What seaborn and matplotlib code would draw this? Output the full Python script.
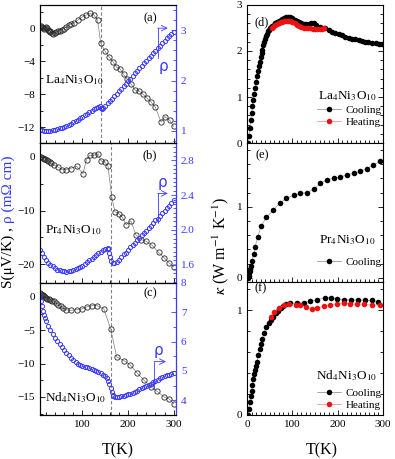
import matplotlib
matplotlib.use('Agg')
import matplotlib.pyplot as plt
from matplotlib.ticker import MultipleLocator, FormatStrFormatter, NullFormatter
from matplotlib.lines import Line2D
import seaborn as sns

# ---- thermopower S (uV/K), open black circles ----
T_S_a = [8, 10, 12, 14, 16, 18, 20, 22, 24, 26, 28, 30, 33, 36, 39, 42, 46, 50, 55, 60, 65, 70, 75, 81,
         90, 100, 108, 116, 125, 133, 140, 149, 158, 167, 174, 182, 190, 197, 206, 215, 224, 233, 242,
         250, 260, 272, 280, 291, 300]
S_a = [0.1, 0.2, 0.1, 0.0, -0.1, 0.0, 0.1, 0.0, -0.2, -0.3, -0.4, -0.5, -0.6, -0.65, -0.6, -0.5, -0.4,
       -0.3, -0.2, -0.05, 0.15, 0.36, 0.5, 0.6, 0.97, 1.37, 1.58, 1.78, 1.6, 0.97, -1.78, -2.75, -3.47,
       -4.08, -4.7, -4.9, -5.6, -6.1, -6.7, -7.5, -7.6, -8.0, -8.5, -8.9, -9.6, -11.35, -10.7, -11.15, -11.9]

T_S_b = [8, 10, 13, 16, 19, 22, 25, 28, 31, 37, 46, 55, 64, 74, 87, 101, 109, 116, 125, 134, 141, 149,
         156, 164, 171, 180, 187, 196, 206, 217, 228, 239, 253, 267, 279, 290, 300]
S_b = [0.0, -0.1, -0.2, -0.3, -0.45, -0.6, -0.75, -0.9, -1.1, -1.5, -1.85, -2.35, -2.35, -2.16, -1.73,
       -3.1, -0.5, 0.3, 0.3, 0.6, -0.74, -0.93, -1.73, -7.4, -10.2, -10.6, -11.2, -12.65, -11.9, -14.5,
       -15.4, -15.7, -16.5, -17.8, -18.8, -19.75, -20.5]

T_S_c = [8, 10, 12, 14, 16, 18, 20, 23, 26, 30, 33, 37, 42, 47, 52, 57, 63, 74, 87, 99, 109, 121, 132,
         147, 162, 175, 191, 204, 220, 235, 250, 264, 279, 290, 300]
S_c = [0.6, 0.5, 0.35, 0.25, 0.15, 0.05, -0.1, -0.25, -0.35, -0.45, -0.55, -0.65, -0.9, -1.15, -1.4,
       -1.65, -1.9, -2.0, -1.9, -1.8, -1.5, -1.3, -1.3, -1.8, -4.8, -9.0, -9.55, -10.15, -11.4, -12.5,
       -13.5, -14.15, -15.0, -15.3, -16.0]

# ---- resistivity rho (mOhm cm), open blue circles ----
T_rho_a = [8, 12, 16, 20, 25, 30, 35, 40, 45, 50, 55, 60, 65, 70, 75, 80, 85, 90, 95, 100, 105, 110,
           115, 120, 125, 130, 135, 138, 140, 142, 145, 150, 155, 160, 165, 170, 175, 180, 185, 190,
           195, 200, 205, 210, 215, 220, 225, 230, 235, 240, 245, 250, 255, 260, 265, 270, 275, 280,
           285, 290, 295, 300]
rho_a = [1.02, 1.01, 1.00, 1.00, 1.00, 1.00, 1.01, 1.02, 1.03, 1.05, 1.06, 1.08, 1.10, 1.12, 1.14,
         1.17, 1.19, 1.22, 1.25, 1.28, 1.31, 1.34, 1.37, 1.40, 1.43, 1.46, 1.48, 1.49, 1.45, 1.44,
         1.46, 1.50, 1.55, 1.60, 1.64, 1.69, 1.74, 1.79, 1.84, 1.89, 1.94, 1.99, 2.04, 2.09, 2.14,
         2.19, 2.24, 2.29, 2.34, 2.39, 2.44, 2.49, 2.54, 2.59, 2.64, 2.69, 2.74, 2.79, 2.84, 2.89,
         2.93, 2.97]

T_rho_b = [8, 12, 16, 20, 25, 30, 35, 40, 45, 50, 55, 60, 65, 70, 75, 80, 85, 90, 95, 100, 105, 110,
           115, 120, 125, 130, 135, 140, 145, 150, 155, 157, 159, 161, 163, 166, 170, 175, 180, 185,
           190, 195, 200, 205, 210, 215, 220, 225, 230, 235, 240, 245, 250, 255, 260, 265, 270, 275,
           280, 285, 290, 295, 300]
rho_b = [1.77, 1.73, 1.69, 1.66, 1.62, 1.60, 1.58, 1.56, 1.545, 1.535, 1.53, 1.525, 1.52, 1.525,
         1.53, 1.54, 1.55, 1.56, 1.575, 1.59, 1.61, 1.63, 1.65, 1.67, 1.69, 1.71, 1.73, 1.75, 1.765,
         1.78, 1.79, 1.78, 1.74, 1.69, 1.64, 1.62, 1.615, 1.63, 1.66, 1.69, 1.72, 1.74, 1.77, 1.80,
         1.83, 1.85, 1.88, 1.91, 1.94, 1.97, 1.99, 2.02, 2.05, 2.08, 2.11, 2.13, 2.16, 2.19, 2.22,
         2.25, 2.28, 2.31, 2.34]

T_rho_c = [8, 10, 12, 14, 16, 18, 20, 25, 30, 35, 40, 45, 50, 55, 60, 65, 70, 75, 80, 85, 90, 95,
           100, 105, 110, 115, 120, 125, 130, 135, 140, 145, 150, 153, 156, 159, 162, 164, 166, 168,
           172, 176, 180, 185, 190, 195, 200, 205, 210, 215, 220, 225, 230, 235, 240, 245, 250, 255,
           260, 265, 270, 275, 280, 285, 290, 295, 300]
rho_c = [7.54, 7.40, 7.22, 7.03, 6.90, 6.80, 6.72, 6.55, 6.41, 6.27, 6.13, 6.02, 5.91, 5.81, 5.72,
         5.62, 5.54, 5.46, 5.38, 5.30, 5.25, 5.21, 5.18, 5.15, 5.12, 5.10, 5.07, 5.04, 5.01, 4.97,
         4.93, 4.88, 4.82, 4.77, 4.66, 4.55, 4.42, 4.27, 4.18, 4.15, 4.13, 4.13, 4.13, 4.14, 4.16,
         4.18, 4.21, 4.23, 4.26, 4.29, 4.33, 4.37, 4.41, 4.44, 4.48, 4.52, 4.56, 4.61, 4.65, 4.70,
         4.75, 4.79, 4.82, 4.85, 4.88, 4.91, 4.93]

# ---- thermal conductivity kappa (W/m/K) ----
T_kd_cool = [2, 4, 6, 8, 10, 12, 14, 16, 18, 20, 22, 24, 26, 28, 30, 32, 34, 36, 38, 40, 42, 44, 46,
             48, 50, 53, 56, 59, 62, 66, 70, 74, 78, 82, 86, 90, 95, 100, 105, 110, 115, 120, 125,
             130, 136, 142, 147, 153, 160, 166, 173, 180, 187, 195, 202, 210, 217, 224, 232, 239,
             246, 254, 261, 268, 276, 284, 291, 297]
k_d_cool = [0.0, 0.15, 0.32, 0.5, 0.65, 0.8, 0.93, 1.06, 1.2, 1.33, 1.45, 1.56, 1.67, 1.77, 1.86,
            1.95, 2.03, 2.12, 2.2, 2.27, 2.33, 2.38, 2.43, 2.46, 2.49, 2.52, 2.55, 2.57, 2.6, 2.63,
            2.65, 2.68, 2.70, 2.72, 2.74, 2.74, 2.73, 2.71, 2.68, 2.66, 2.64, 2.61, 2.58, 2.58, 2.59,
            2.60, 2.60, 2.57, 2.53, 2.51, 2.49, 2.45, 2.42, 2.40, 2.38, 2.34, 2.31, 2.29, 2.27, 2.26,
            2.25, 2.22, 2.20, 2.19, 2.18, 2.17, 2.16, 2.16]
T_kd_heat = [55, 58, 62, 66, 70, 74, 78, 82, 86, 90, 95, 100, 105, 110, 115, 120, 125, 130, 135, 140,
             145, 150, 155, 160, 165, 170]
k_d_heat = [2.50, 2.53, 2.56, 2.58, 2.60, 2.62, 2.64, 2.65, 2.66, 2.66, 2.65, 2.63, 2.60, 2.57, 2.55,
            2.53, 2.51, 2.50, 2.49, 2.49, 2.48, 2.47, 2.47, 2.47, 2.48, 2.49]

T_ke_cool = [2, 3, 4, 5, 6, 7, 9, 11, 15, 18, 24, 31, 43, 57, 72, 87, 103, 118, 132, 147, 162, 176,
             191, 206, 221, 235, 250, 265, 279, 294]
k_e_cool = [0.0, 0.01, 0.03, 0.06, 0.1, 0.13, 0.17, 0.24, 0.34, 0.44, 0.58, 0.73, 0.85, 0.95, 1.05,
            1.12, 1.16, 1.19, 1.2, 1.25, 1.33, 1.38, 1.40, 1.42, 1.45, 1.47, 1.5, 1.54, 1.59, 1.64]

T_kf_cool = [2, 4, 6, 8, 10, 12, 14, 16, 18, 20, 22, 25, 28, 31, 34, 38, 43, 48, 53, 58, 63, 68, 74,
             80, 87, 95, 110, 125, 140, 155, 171, 185, 199, 213, 229, 244, 261, 276, 290]
k_f_cool = [0.0, 0.06, 0.12, 0.18, 0.23, 0.29, 0.34, 0.39, 0.43, 0.47, 0.51, 0.57, 0.63, 0.68, 0.73,
            0.78, 0.84, 0.88, 0.91, 0.94, 0.97, 0.99, 1.02, 1.04, 1.06, 1.07, 1.07, 1.07, 1.09, 1.10,
            1.12, 1.12, 1.11, 1.10, 1.10, 1.10, 1.095, 1.095, 1.08]
T_kf_heat = [53, 60, 70, 81, 92, 107, 118, 131, 143, 154, 169, 184, 199, 213, 228, 243, 257, 276, 294]
k_f_heat = [0.94, 0.98, 1.02, 1.05, 1.06, 1.05, 1.05, 1.03, 1.01, 1.02, 1.04, 1.05, 1.06, 1.07, 1.06,
            1.06, 1.06, 1.05, 1.05]

compounds = ['La$_4$Ni$_3$O$_{10}$', 'Pr$_4$Ni$_3$O$_{10}$', 'Nd$_4$Ni$_3$O$_{10}$']

sns.set_style('ticks')
plt.rcParams['font.family'] = ['Liberation Serif', 'DejaVu Serif']
plt.rcParams['mathtext.fontset'] = 'stix'
plt.rcParams.update({
    'axes.linewidth': 0.8, 'axes.edgecolor': 'black', 'text.color': 'black',
    'axes.labelcolor': 'black', 'xtick.color': 'black', 'ytick.color': 'black',
    'xtick.direction': 'in', 'ytick.direction': 'in',
    'xtick.labelsize': 8, 'ytick.labelsize': 8,
    'xtick.major.size': 3.5, 'ytick.major.size': 3.5,
    'xtick.minor.size': 2, 'ytick.minor.size': 2,
    'xtick.major.width': 0.6, 'ytick.major.width': 0.6,
    'xtick.minor.width': 0.6, 'ytick.minor.width': 0.6,
})

BLUE = '#3a3aff'
RED = '#ee1111'
W, H = 395, 459
fig = plt.figure(figsize=(W / 100, H / 100), dpi=100)


def box(x0, x1, y0, y1):
    return fig.add_axes([x0 / W, 1 - y1 / H, (x1 - x0) / W, (y1 - y0) / H])


def left_panel(ax, T_S, S, T_r, r, slim, smaj, smin, rlim, rmaj, rmin, rfmt, tdash):
    ax.axvline(tdash, color='0.5', ls=(0, (3, 2)), lw=0.8, zorder=0)
    sns.lineplot(x=T_S, y=S, ax=ax, color='0.5', lw=0.5, marker='o', ms=3.8, mfc='none',
                 mec='0.15', mew=0.6, estimator=None, sort=False)
    tw = ax.twinx()
    sns.lineplot(x=T_r, y=r, ax=tw, color=BLUE, lw=0, marker='o', ms=3.0, mfc='none',
                 mec=BLUE, mew=0.7, estimator=None, sort=False)
    ax.set_xlim(7, 305)
    ax.set_ylim(*slim)
    tw.set_ylim(*rlim)
    ax.xaxis.set_major_locator(MultipleLocator(100))
    ax.xaxis.set_minor_locator(MultipleLocator(20))
    ax.yaxis.set_major_locator(MultipleLocator(smaj))
    ax.yaxis.set_minor_locator(MultipleLocator(smin))
    tw.yaxis.set_major_locator(MultipleLocator(rmaj))
    tw.yaxis.set_minor_locator(MultipleLocator(rmin))
    tw.yaxis.set_major_formatter(FormatStrFormatter(rfmt))
    ax.tick_params(which='both', right=False, top=False)
    tw.tick_params(axis='y', which='both', colors=BLUE)
    tw.spines['right'].set_color(BLUE)
    for a in (ax, tw):
        a.set_xlabel('')
        a.set_ylabel('')
    return tw


def right_panel(ax, ylim, series):
    for T, k, fc, lc in series:
        sns.lineplot(x=T, y=k, ax=ax, color=lc, lw=0.5, marker='o', ms=4.0, mfc=fc, mec=fc,
                     mew=0, estimator=None, sort=False)
    ax.set_xlim(0, 300)
    ax.set_ylim(*ylim)
    ax.xaxis.set_major_locator(MultipleLocator(100))
    ax.xaxis.set_minor_locator(MultipleLocator(10))
    ax.yaxis.set_major_locator(MultipleLocator(1))
    ax.yaxis.set_minor_locator(MultipleLocator(0.2))
    ax.tick_params(which='both', right=True, top=False)
    ax.set_xlabel('')
    ax.set_ylabel('')


ax_a = box(40, 176, 5, 143)
ax_b = box(40, 176, 143, 283)
ax_c = box(40, 176, 283, 415)
ax_d = box(247, 383, 5, 143)
ax_e = box(247, 383, 143, 282)
ax_f = box(247, 383, 282, 415)

tw_a = left_panel(ax_a, T_S_a, S_a, T_rho_a, rho_a, (-13.9, 2.8), 4, 2, (0.76, 3.5), 1, 0.2, '%g', 140)
tw_b = left_panel(ax_b, T_S_b, S_b, T_rho_b, rho_b, (-23.5, 2.6), 10, 5, (1.39, 3.0), 0.4, 0.05, '%.1f', 162)
tw_c = left_panel(ax_c, T_S_c, S_c, T_rho_c, rho_c, (-17.7, 2.1), 5, 2.5, (3.5, 8.0), 1, 0.5, '%g', 162)

right_panel(ax_d, (0, 3), [(T_kd_cool, k_d_cool, 'black', '0.6'), (T_kd_heat, k_d_heat, RED, '#ff9090')])
right_panel(ax_e, (-0.06, 1.9), [(T_ke_cool, k_e_cool, 'black', '0.6')])
right_panel(ax_f, (0, 1.27), [(T_kf_cool, k_f_cool, 'black', '0.6'), (T_kf_heat, k_f_heat, RED, '#ff9090')])

for a in (ax_a, ax_b, ax_d, ax_e):
    a.xaxis.set_major_formatter(NullFormatter())

# panel letters
for a, lab, x, y in [(ax_a, '(a)', 0.81, 0.905), (ax_b, '(b)', 0.81, 0.914), (ax_c, '(c)', 0.81, 0.924),
                     (ax_d, '(d)', 0.11, 0.877), (ax_e, '(e)', 0.11, 0.914), (ax_f, '(f)', 0.10, 0.955)]:
    a.text(x, y, lab, transform=a.transAxes, ha='center', va='center', fontsize=9)

# compound names
for a, name, y in [(ax_a, compounds[0], 0.457), (ax_b, compounds[1], 0.379), (ax_c, compounds[2], 0.13)]:
    a.text(0.035, y, name, transform=a.transAxes, ha='left', va='center', fontsize=9.5)
for a, name, y in [(ax_d, compounds[0], 0.34), (ax_e, compounds[1], 0.30), (ax_f, compounds[2], 0.30)]:
    a.text(0.735, y, name, transform=a.transAxes, ha='center', va='center', fontsize=9.5)

# rho pointers
for tw, x1, x2, ylo, yhi, tx, ty in [(tw_a, 265, 287, 2.45, 3.04, 278, 2.27),
                                     (tw_b, 265, 287, 2.08, 2.42, 276, 2.54),
                                     (tw_c, 257, 283, 4.39, 5.32, 267, 5.71)]:
    tw.plot([x1, x1], [ylo, yhi], color=BLUE, lw=0.6)
    tw.annotate('', xy=(x2, yhi), xytext=(x1, yhi),
                arrowprops=dict(arrowstyle='->', color=BLUE, lw=0.6, shrinkA=0, shrinkB=0))
    tw.text(tx, ty, 'ρ', color=BLUE, fontsize=11, ha='center', va='center', family='DejaVu Sans')

# legends
h_cool = Line2D([], [], color='0.6', lw=0.6, marker='o', ms=4, mfc='k', mec='k', mew=0)
h_heat = Line2D([], [], color='#ff9090', lw=0.6, marker='o', ms=4, mfc=RED, mec=RED, mew=0)
for a, hs, labs, y in [(ax_d, [h_cool, h_heat], ['Cooling', 'Heating'], 0.275),
                       (ax_e, [h_cool], ['Cooling'], 0.18),
                       (ax_f, [h_cool, h_heat], ['Cooling', 'Heating'], 0.205)]:
    a.legend(hs, labs, loc='upper left', bbox_to_anchor=(0.515, y), borderaxespad=0, borderpad=0,
             frameon=False, fontsize=8, handlelength=2.2, handletextpad=0.4, labelspacing=0.25)

# axis titles
fig.text(118 / W, 1 - 450 / H, 'T(K)', ha='center', va='center', fontsize=11.5)
fig.text(322 / W, 1 - 450 / H, 'T(K)', ha='center', va='center', fontsize=11.5)
fig.text(221 / W, 1 - 246 / H, r'$\kappa$ (W m$^{-1}$ K$^{-1}$)', rotation=90,
         ha='center', va='center', fontsize=11.5)
t1 = fig.text(8 / W, 1 - 288 / H, 'S(μV/K) , ', rotation=90, ha='center', va='bottom', fontsize=11)
fig.canvas.draw()
bb = t1.get_window_extent()
fig.text(8 / W, bb.y1 / fig.bbox.height, 'ρ (mΩ cm)', rotation=90, ha='center', va='bottom',
         fontsize=11, color=BLUE)

fig.savefig('out.png', dpi=100)
